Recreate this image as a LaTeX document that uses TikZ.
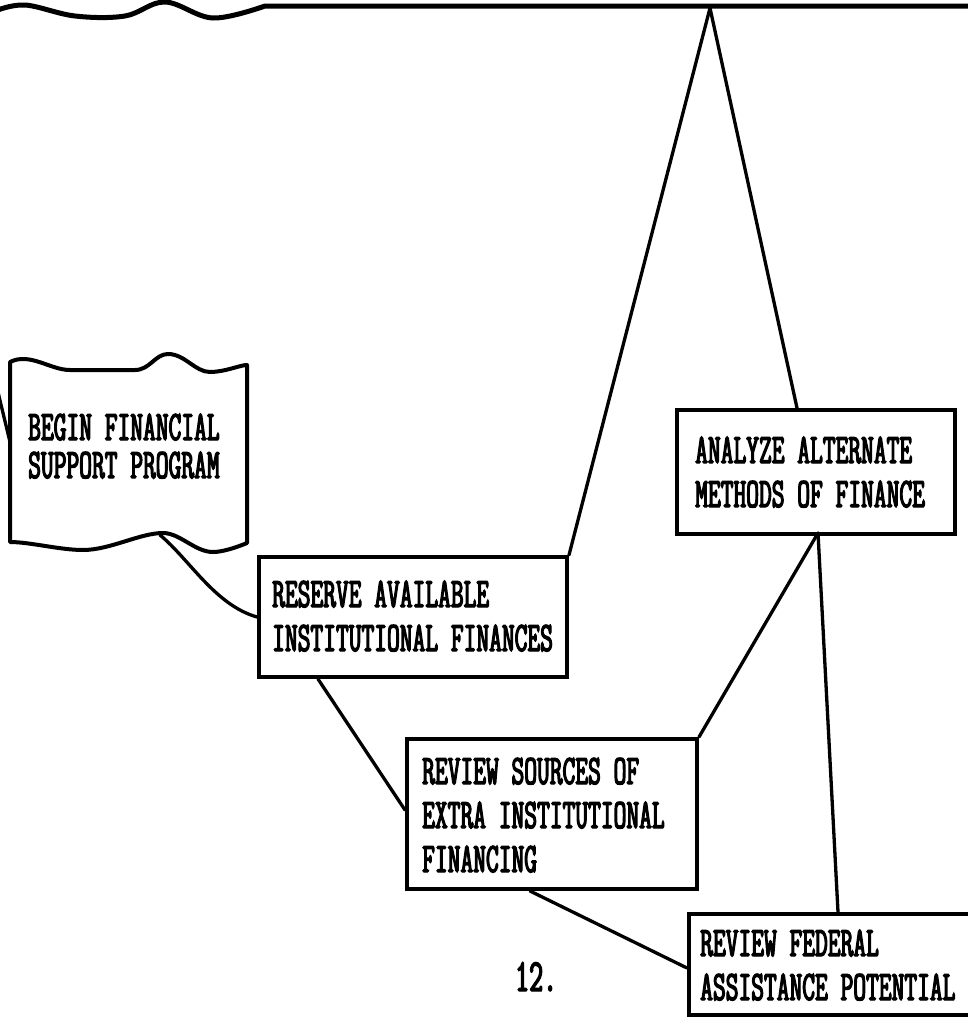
\documentclass[tikz,border=0pt]{standalone}
\usepackage{fontspec}
\newfontfamily\twfont[FakeStretch=0.59,FakeBold=3]{Latin Modern Mono}
\usetikzlibrary{calc}
\begin{document}
\begin{tikzpicture}[x=1pt,y=-1pt,
  flowbox/.style={draw,line width=4pt,inner sep=0pt,anchor=north west},
  boxtext/.style={anchor=base west,inner sep=0pt,align=left,
    font=\twfont\fontsize{42}{44}\selectfont},
  link/.style={line width=3.3pt,line cap=round,line join=round}]
\useasboundingbox (0,0) rectangle (968,1028);
\fill[white] (0,0) rectangle (968,1028);
\begin{scope}
\clip (0,0) rectangle (968,1028);

% torn top border with the joint the branches hang from
\draw[line width=5pt,line join=round] plot[smooth,tension=0.6] coordinates
  {(-5,11) (25,5) (75,16) (125,16) (165,2) (213,18) (265,6)} -- (975,6);
\coordinate (apex) at (710,8);

% start sheet with wavy top and bottom edges
\draw[line width=4pt,line join=round]
  (10,362) .. controls (30,352) and (50,370) .. (70,370) -- (135,370)
  .. controls (150,370) and (155,354) .. (168,354)
  .. controls (185,354) and (195,372) .. (210,372)
  .. controls (225,372) and (240,365) .. (247,365) -- (247,543)
  .. controls (235,548) and (222,552) .. (213,552)
  .. controls (195,552) and (180,533) .. (163,533)
  .. controls (140,533) and (110,550) .. (83,550)
  .. controls (60,550) and (30,542) .. (10,542) -- cycle;
\coordinate (begL) at (10,442);
\coordinate (begB) at (160,535);
\coordinate (offL) at (-3,388);
% (the base anchor of a multi-line node sits on its last line)
\node[boxtext,font=\twfont\fontsize{42}{38}\selectfont] (begT) at (28,478)
  {BEGIN FINANCIAL\\SUPPORT PROGRAM};

% activity boxes
\node[flowbox,minimum width=308pt,minimum height=120pt] (res) at (257,555) {};
\node[flowbox,minimum width=290pt,minimum height=150pt] (rev) at (405,737) {};
\node[flowbox,minimum width=278pt,minimum height=124pt] (ana) at (675,408) {};
\node[flowbox,minimum width=330pt,minimum height=101pt] (fed) at (687,912) {};

\node[boxtext] (resT) at (272,651) {RESERVE AVAILABLE\\INSTITUTIONAL FINANCES};
\node[boxtext] (revT) at (422,872) {REVIEW SOURCES OF\\EXTRA INSTITUTIONAL\\FINANCING};
\node[boxtext] (anaT) at (695,507) {ANALYZE ALTERNATE\\METHODS OF FINANCE};
\node[boxtext] (fedT) at (700,1000) {REVIEW FEDERAL\\ASSISTANCE POTENTIAL};

\coordinate (join) at ($(ana.south west)+(143,-3)$);

% connectors
\draw[link] (offL) -- (begL);
\draw[link] (begB) .. controls (190,560) and (215,605) .. (res.west);
\draw[link] (apex) -- (res.north east);
\draw[link] (apex) -- ($(ana.north west)+(122,0)$);
\draw[link] ($(res.south west)+(61,0)$) -- ($(rev.north west)+(0,73)$);
\draw[link] (rev.north east) -- (join);
\draw[link] (join) -- ($(fed.north west)+(151,0)$);
\draw[link] ($(rev.south west)+(125,0)$) -- ($(fed.north west)+(0,56)$);

% page number
\node[boxtext,font=\twfont\fontsize{46}{46}\selectfont] (pg) at (515,991) {12.};
\end{scope}
\end{tikzpicture}
\end{document}
